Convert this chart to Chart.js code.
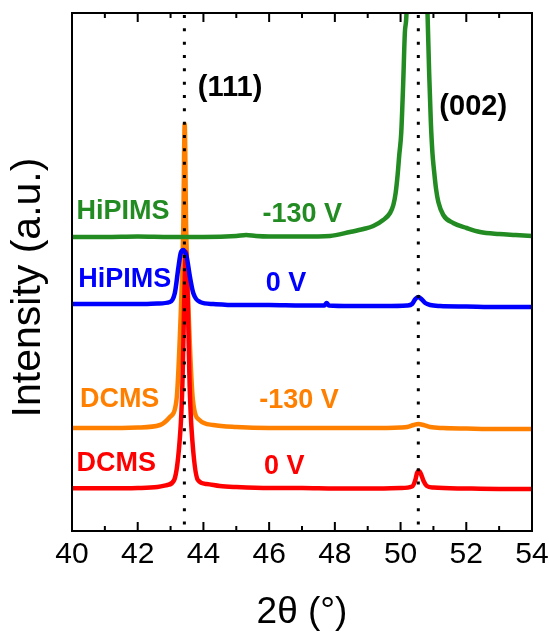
<!DOCTYPE html>
<html>
<head>
<meta charset="utf-8">
<script src="https://cdn.jsdelivr.net/npm/chart.js@4/dist/chart.umd.min.js"></script>
<style>
  html, body { margin: 0; padding: 0; background: #fff; }
  #wrap { width: 549px; height: 633px; }
</style>
</head>
<body>
<div id="wrap"><canvas id="xrd" width="549" height="633"></canvas></div>
<script>
// 2theta (deg) and stacked intensity (a.u.)
var greenX = [40, 41, 42, 43, 44, 45, 45.3, 45.6, 46, 47, 47.85, 48.46, 48.87, 49.17, 49.47, 49.68, 49.78, 49.85, 49.91, 49.96, 50.02, 50.08, 50.13, 50.18, 50.3, 50.5, 50.7, 50.82, 50.87, 50.92, 50.97, 51.02, 51.08, 51.15, 51.3, 51.6, 52.01, 52.42, 53, 53.5, 54];
var greenY = [294, 294, 294.5, 294, 294, 295, 296, 295, 294.5, 294.5, 295, 299, 302, 305, 311, 318, 326, 338, 356, 376, 398, 448, 498, 518, 700, 900, 700, 518, 458, 410, 378, 360, 342, 329, 316, 308, 303, 299, 297, 296, 295];

var blueX = [40, 41, 42, 42.6, 42.98, 43.13, 43.24, 43.31, 43.39, 43.49, 43.59, 43.69, 43.9, 44.3, 45, 46, 47, 47.68, 47.75, 47.82, 48.5, 49.5, 50.2, 50.35, 50.45, 50.54, 50.63, 50.75, 50.9, 51.2, 52, 53, 54];
var blueY = [227, 227, 227, 227.5, 229, 238, 264, 278, 281, 274, 254, 238, 229, 227, 226, 226, 225.5, 225.5, 228, 225.5, 225, 225, 225.5, 227, 232, 234, 232, 228, 226, 225, 224.5, 224, 224];

var orangeX = [40, 41, 42, 42.68, 42.98, 43.18, 43.29, 43.385, 43.43, 43.475, 43.57, 43.68, 43.88, 44.3, 45, 46, 47, 48, 49, 50, 50.2, 50.4, 50.54, 50.7, 50.9, 51.3, 52, 53, 54];
var orangeY = [103, 103, 103.5, 106, 114, 131, 201, 301, 407, 301, 201, 131, 111, 106, 104, 103, 103, 103, 103, 103.5, 104, 106, 107, 106, 104, 103, 102.5, 102, 102];

var redX = [40, 41, 42, 42.6, 42.9, 43.11, 43.3, 43.35, 43.47, 43.59, 43.64, 43.83, 44.1, 44.5, 45, 46, 47, 48, 49, 50, 50.35, 50.45, 50.5, 50.56, 50.62, 50.7, 50.8, 51, 52, 53, 54];
var redY = [42.7, 42.7, 43, 44, 46, 51, 101, 136, 279, 136, 101, 51, 47, 45, 44, 43, 43, 42.5, 42.5, 43, 44.5, 51, 58, 60, 57, 50, 45, 43.5, 42.5, 42, 42];

var peakLines = [43.42, 50.54];
var majorTicks = [40, 42, 44, 46, 48, 50, 52, 54];
var minorTicks = [41, 43, 45, 47, 49, 51, 53];

var seriesNames = ['HiPIMS', 'HiPIMS', 'DCMS', 'DCMS'];
var biasNames = ['-130 V', '0 V', '-130 V', '0 V'];
var peakNames = ['(111)', '(002)'];

var FONT = '"Liberation Sans", Arial, sans-serif';
var GREEN = '#228b22', BLUE = '#0000ff', ORANGE = '#ff8000', RED = '#ff0000';

function pts(xs, ys) {
    return xs.map(function (x, i) { return {x: x, y: ys[i]}; });
}

function curve(data, color, order) {
    return {
        data: data,
        borderColor: color,
        borderWidth: 4.5,
        pointRadius: 0,
        cubicInterpolationMode: 'monotone',
        order: order
    };
}

function dotted(x) {
    return {
        data: [{x: x, y: 518}, {x: x, y: 0}],
        borderColor: '#000',
        borderWidth: 3,
        borderDash: [3, 10.33],
        borderDashOffset: 11.33,
        borderCapStyle: 'butt',
        pointRadius: 0,
        order: 0
    };
}

// text anchors in data units (left edge, middle)
var seriesLabels = [
    {text: seriesNames[0], x: 40.14, y: 319, color: GREEN},
    {text: biasNames[0], x: 45.80, y: 316, color: GREEN},
    {text: seriesNames[1], x: 40.19, y: 251, color: BLUE},
    {text: biasNames[1], x: 45.90, y: 247.5, color: BLUE},
    {text: seriesNames[2], x: 40.24, y: 131, color: ORANGE},
    {text: biasNames[2], x: 45.70, y: 130, color: ORANGE},
    {text: seriesNames[3], x: 40.14, y: 67, color: RED},
    {text: biasNames[3], x: 45.84, y: 64.3, color: RED}
];
var peakLabels = [
    {text: peakNames[0], x: 43.83, y: 443},
    {text: peakNames[1], x: 51.18, y: 424.3}
];

var overlay = {
    id: 'overlay',
    afterDatasetsDraw: function (chart) {
        var ctx = chart.ctx, a = chart.chartArea;
        var xs = chart.scales.x, ys = chart.scales.y;
        ctx.save();

        // frame
        ctx.strokeStyle = '#000';
        ctx.lineWidth = 2;
        ctx.strokeRect(a.left, a.top, a.right - a.left, a.bottom - a.top);

        // inward ticks on bottom and top
        function tick(v, len) {
            var px = xs.getPixelForValue(v);
            ctx.beginPath();
            ctx.moveTo(px, a.bottom);
            ctx.lineTo(px, a.bottom - len);
            ctx.moveTo(px, a.top);
            ctx.lineTo(px, a.top + len);
            ctx.stroke();
        }
        majorTicks.forEach(function (v) { tick(v, 9); });
        minorTicks.forEach(function (v) { tick(v, 5); });

        ctx.textBaseline = 'middle';
        ctx.textAlign = 'left';
        ctx.font = 'bold 27px ' + FONT;
        seriesLabels.forEach(function (l) {
            ctx.fillStyle = l.color;
            ctx.fillText(l.text, xs.getPixelForValue(l.x), ys.getPixelForValue(l.y));
        });
        ctx.font = 'bold 29px ' + FONT;
        ctx.fillStyle = '#000';
        peakLabels.forEach(function (l) {
            ctx.fillText(l.text, xs.getPixelForValue(l.x), ys.getPixelForValue(l.y));
        });

        // y title
        ctx.translate(28.5, 287.5);
        ctx.rotate(-Math.PI / 2);
        ctx.textAlign = 'center';
        ctx.font = '41px ' + FONT;
        ctx.fillText('Intensity (a.u.)', 0, 0);
        ctx.restore();
    }
};

var config = {
    type: 'line',
    data: {
        datasets: [
            dotted(peakLines[0]),
            dotted(peakLines[1]),
            curve(pts(greenX, greenY), GREEN, 1),
            curve(pts(blueX, blueY), BLUE, 2),
            curve(pts(redX, redY), RED, 3),
            curve(pts(orangeX, orangeY), ORANGE, 4)
        ]
    },
    options: {
        responsive: false,
        animation: false,
        devicePixelRatio: 1,
        layout: {padding: {left: 72, right: 17, top: 13, bottom: 0}},
        plugins: {legend: {display: false}, tooltip: {enabled: false}},
        scales: {
            x: {
                type: 'linear',
                min: 40,
                max: 54,
                grid: {display: false, drawTicks: false},
                border: {display: false},
                ticks: {
                    stepSize: 2,
                    autoSkip: false,
                    maxRotation: 0,
                    padding: 6,
                    color: '#000',
                    font: {family: FONT, size: 30}
                },
                title: {
                    display: true,
                    text: '2θ (°)',
                    color: '#000',
                    font: {family: FONT, size: 37, lineHeight: 1},
                    padding: {top: 0, bottom: 2}
                },
                afterFit: function (s) {
                    s.height = 102;
                    s.paddingLeft = 0;
                    s.paddingRight = 0;
                }
            },
            y: {
                type: 'linear',
                min: 0,
                max: 518,
                display: false
            }
        }
    },
    plugins: [overlay]
};

var ctx = document.getElementById('xrd').getContext('2d');
window.xrdChart = new Chart(ctx, config);
</script>
</body>
</html>
